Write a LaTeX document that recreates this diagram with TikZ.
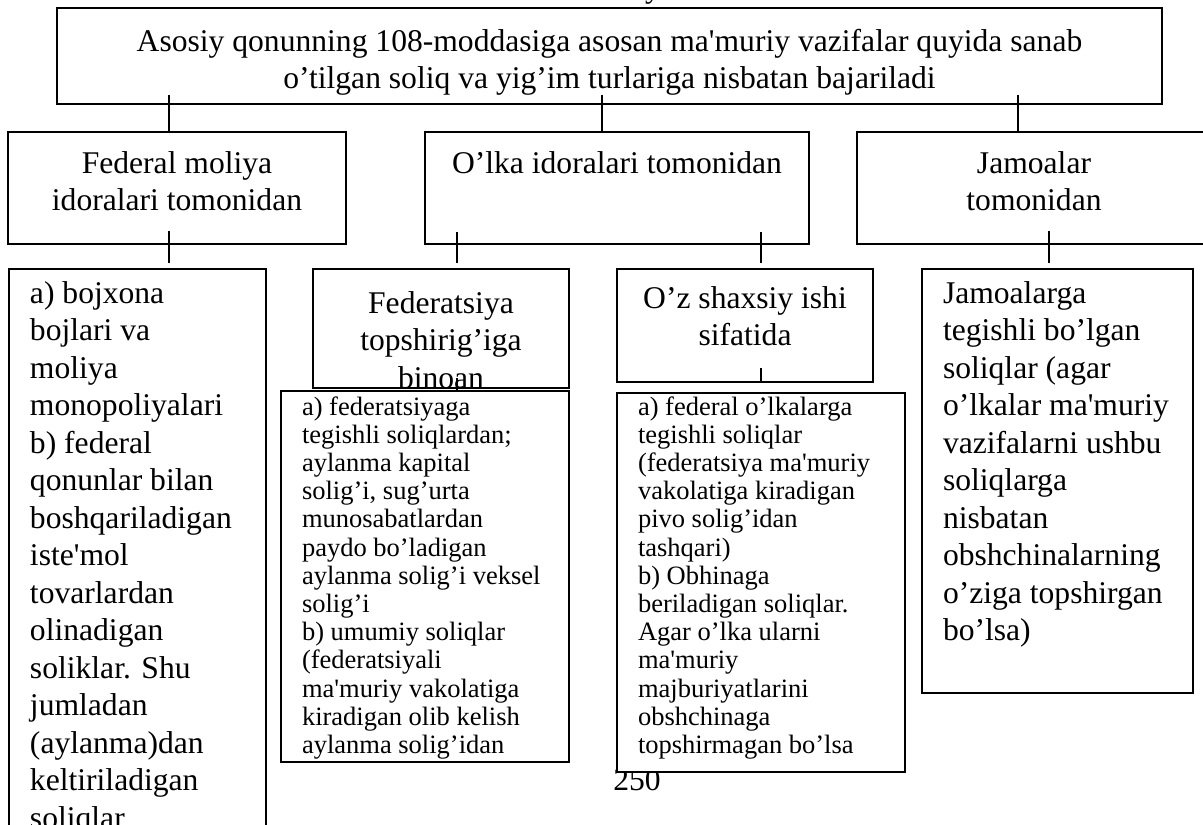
\documentclass[tikz,border=0pt]{standalone}
\usepackage{fontspec}
\setmainfont{Liberation Serif}[Ligatures=TeXOff]
\begin{document}
\begin{tikzpicture}[x=1pt,y=-1pt,
  box/.style={draw, line width=1.3pt, fill=white, inner sep=0pt, outer sep=0pt, anchor=north west},
  topbox/.style={box, line width=2pt},
  big/.style={font=\fontsize{31.6}{37.5}\selectfont, inner sep=0pt, outer sep=0pt},
  small/.style={font=\fontsize{26.5}{28.2}\selectfont, inner sep=0pt, outer sep=0pt},
  conn/.style={line width=1.2pt}]
\useasboundingbox (0,0) rectangle (1203,825);
\clip (0,0) rectangle (1203,825);
% stray text fragments of the page
\node[big, anchor=base] (ytop) at (653,-3) {y};
\node[big, anchor=base] (page) at (637,790) {250};
% boxes
\node[topbox, minimum width=1105pt, minimum height=96pt] (top) at (57,8) {};
\node[box, minimum width=338pt, minimum height=112pt] (fed) at (8,132) {};
\node[box, minimum width=384pt, minimum height=112pt] (olka) at (425,132) {};
\node[box, minimum width=354pt, minimum height=112pt] (jam) at (857,132) {};
\node[box, minimum width=257pt, minimum height=600pt] (boj) at (9,269) {};
\node[box, minimum width=256pt, minimum height=119pt] (fedt) at (313,269) {};
\node[box, minimum width=256pt, minimum height=113pt] (oz) at (617,269) {};
\node[box, minimum width=271pt, minimum height=424pt] (jaml) at (922,269) {};
% texts (anchor base = baseline of the last line)
\node[big, anchor=base, align=center] (topT) at (609.5,88.5)
  {Asosiy qonunning 108-moddasiga asosan ma'muriy vazifalar quyida sanab\\o’tilgan soliq va yig’im turlariga nisbatan bajariladi};
\node[big, anchor=base, align=center] (fedT) at (177,210.5) {Federal moliya\\idoralari tomonidan};
\node[big, anchor=base, align=center] (olkaT) at (617,173) {O’lka idoralari tomonidan};
\node[big, anchor=base, align=center] (jamT) at (1034,210.5) {Jamoalar\\tomonidan};
\node[big, anchor=base west, align=left] (bojT) at (30,828)
  {a) bojxona\\bojlari va\\moliya\\monopoliyalari\\b) federal\\qonunlar bilan\\boshqariladigan\\iste'mol\\tovarlardan\\olinadigan\\soliklar. Shu\\jumladan\\(aylanma)dan\\keltiriladigan\\soliqlar};
\begin{scope}
\clip (fedt.north west) rectangle (fedt.south east);
\node[big, anchor=base, align=center] (fedtT) at (441,388) {Federatsiya\\topshirig’iga\\binoan};
\end{scope}
\node[big, anchor=base, align=center] (ozT) at (745,345.5) {O’z shaxsiy ishi\\sifatida};
\node[big, anchor=base west, align=left] (jamlT) at (943,640.5)
  {Jamoalarga\\tegishli bo’lgan\\soliqlar (agar\\o’lkalar ma'muriy\\vazifalarni ushbu\\soliqlarga\\nisbatan\\obshchinalarning\\o’ziga topshirgan\\bo’lsa)};
\node[box, minimum width=288pt, minimum height=371pt] (fedl) at (281,391) {};
\node[box, minimum width=288pt, minimum height=379pt] (ozl) at (617,393) {};
\node[small, anchor=base west, align=left] (fedlT) at (302,753.4)
  {a) federatsiyaga\\tegishli soliqlardan;\\aylanma kapital\\solig’i, sug’urta\\munosabatlardan\\paydo bo’ladigan\\aylanma solig’i veksel\\solig’i\\b) umumiy soliqlar\\(federatsiyali\\ma'muriy vakolatiga\\kiradigan olib kelish\\aylanma solig’idan};
\node[small, anchor=base west, align=left] (ozlT) at (638,753.4)
  {a) federal o’lkalarga\\tegishli soliqlar\\(federatsiya ma'muriy\\vakolatiga kiradigan\\pivo solig’idan\\tashqari)\\b) Obhinaga\\beriladigan soliqlar.\\Agar o’lka ularni\\ma'muriy\\majburiyatlarini\\obshchinaga\\topshirmagan bo’lsa};
% connectors
\coordinate (a1) at (169,95);
\coordinate (a2) at (602,95);
\coordinate (a3) at (1018,95);
\draw[conn] (a1) -- (a1 |- fed.north);
\draw[conn] (a2) -- (a2 |- olka.north);
\draw[conn] (a3) -- (a3 |- jam.north);
\coordinate (b1) at (169,231); \coordinate (b1e) at (169,263);
\coordinate (b2) at (457,232); \coordinate (b2e) at (457,263);
\coordinate (b3) at (761,232); \coordinate (b3e) at (761,263);
\coordinate (b4) at (1049,231); \coordinate (b4e) at (1049,263);
\draw[conn] (b1) -- (b1e);
\draw[conn] (b2) -- (b2e);
\draw[conn] (b3) -- (b3e);
\draw[conn] (b4) -- (b4e);
\coordinate (c1) at (457,378);
\draw[conn] (c1) -- (c1 |- fedl.north);
\coordinate (c2) at (761,368);
\draw[conn] (c2) -- (c2 |- oz.south);
\end{tikzpicture}
\end{document}
